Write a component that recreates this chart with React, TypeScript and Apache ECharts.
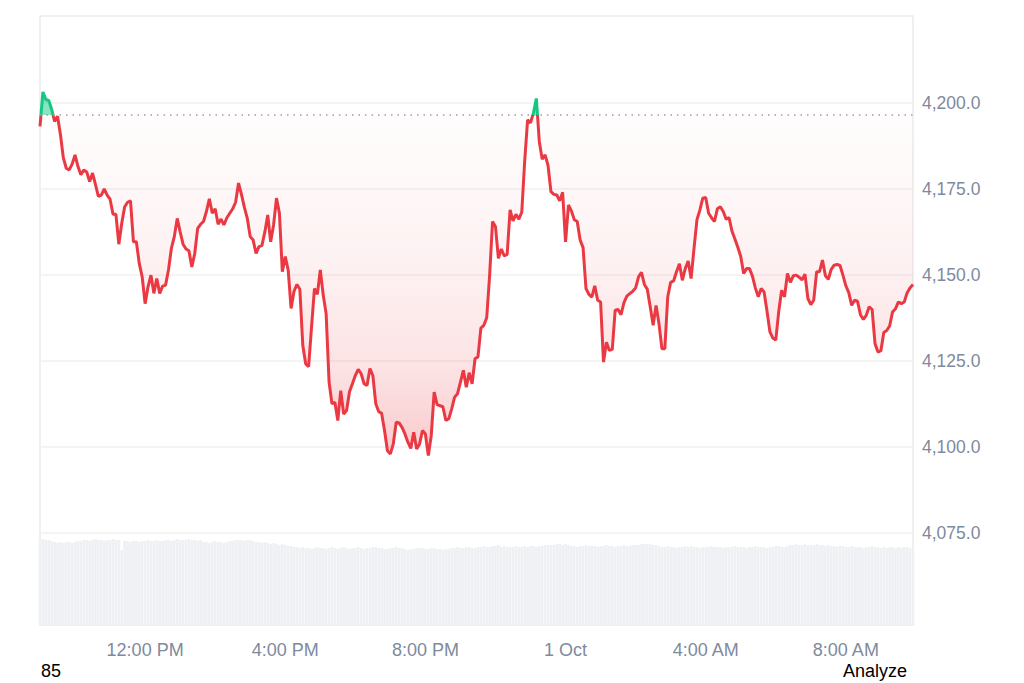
import React, { useEffect, useRef } from "react";
import * as echarts from "echarts";

// Price, 5-minute steps starting 9:00 AM (30 Sep)
const pricesA = [
  4193.2, 4203.2, 4201.0, 4200.7, 4198.1, 4194.6, 4196.1, 4190.8, 4184.0, 4181.0,
  4180.5, 4182.2, 4184.9, 4181.5, 4179.1, 4180.5, 4179.9, 4177.1, 4179.6, 4176.2,
  4172.8, 4173.2, 4175.0, 4173.2, 4172.0, 4167.6, 4167.6, 4158.9, 4165.0, 4169.8,
  4171.1, 4171.5, 4159.6, 4159.6, 4153.3, 4149.4, 4141.6, 4146.5, 4149.9, 4144.6,
  4148.9, 4144.6, 4146.7, 4147.0, 4151.4, 4157.7, 4161.1, 4166.4, 4162.5, 4158.9,
  4157.5, 4157.0, 4152.3, 4156.2, 4163.5, 4164.7, 4165.5, 4168.4, 4172.1, 4167.9,
  4169.2, 4164.7, 4166.2, 4164.5, 4166.6, 4167.9, 4169.2, 4171.1, 4176.7, 4173.4,
  4169.6, 4166.4, 4161.1, 4160.1, 4156.2,
];
const pricesB = [
  4158.2, 4158.5, 4162.4, 4167.4, 4159.6, 4164.5, 4172.3, 4167.9, 4150.9, 4155.3,
  4151.4, 4140.2, 4145.2, 4147.2, 4145.8, 4129.5, 4124.1, 4123.3, 4134.8, 4146.0,
  4144.3, 4151.4, 4144.1, 4138.7, 4118.8, 4112.5, 4112.9, 4107.6, 4116.3, 4109.5,
  4110.5, 4116.0, 4118.3, 4120.7, 4122.5, 4121.2, 4118.3, 4117.8, 4122.7, 4120.7,
  4112.5, 4110.2, 4109.7, 4104.7, 4098.8, 4097.9, 4100.8, 4107.1, 4106.9, 4105.6,
  4103.7, 4101.3, 4099.5, 4104.2, 4099.3, 4100.8, 4104.7, 4103.7, 4097.4, 4103.2,
  4115.9, 4112.2, 4111.9, 4111.6, 4107.6, 4108.1, 4111.0, 4114.4, 4115.4, 4118.8,
  4122.2, 4117.3, 4121.5, 4118.3, 4125.6,
];
const pricesC = [
  4126.1, 4134.5, 4135.3, 4137.5, 4149.9, 4165.5, 4164.0, 4154.8, 4157.5, 4155.5,
  4155.9, 4168.9, 4165.7, 4167.6, 4166.2, 4168.2, 4183.0, 4195.1, 4194.2, 4197.1,
  4201.3, 4188.8, 4183.6, 4184.9, 4181.8, 4174.2, 4173.4, 4173.2, 4171.5, 4174.0,
  4159.6, 4170.3, 4168.6, 4166.0, 4165.5, 4160.1, 4157.9, 4146.0, 4144.3, 4143.5,
  4146.8, 4142.6, 4142.1, 4124.6, 4130.4, 4128.0, 4128.3, 4139.7, 4139.9, 4138.4,
  4141.9, 4143.8, 4144.5, 4145.2, 4146.2, 4149.4, 4150.7, 4147.2, 4145.8, 4140.7,
  4135.3, 4141.1, 4135.8, 4128.5, 4128.5, 4143.6, 4147.8, 4148.2, 4150.9, 4153.2,
  4148.4, 4151.8, 4154.0, 4148.9,
];
const pricesD = [
  4157.7, 4166.0, 4168.8, 4172.3, 4172.5, 4167.9, 4166.6, 4165.5, 4169.2, 4169.8,
  4168.4, 4166.2, 4166.6, 4162.7, 4160.4, 4158.0, 4155.3, 4150.4, 4151.8, 4151.8,
  4149.6, 4146.2, 4143.6, 4146.0, 4145.0, 4139.4, 4133.4, 4131.6, 4131.0, 4139.2,
  4145.5, 4143.6, 4150.4, 4147.8, 4149.7, 4149.9, 4149.3, 4148.5, 4150.2, 4143.1,
  4141.3, 4142.6, 4150.9, 4150.9, 4154.3, 4149.7, 4148.7, 4151.6, 4152.8, 4153.0,
  4152.7, 4149.9, 4146.8, 4144.8, 4141.1, 4142.6, 4142.3, 4138.4, 4137.0, 4138.2,
  4140.7, 4139.9, 4129.9, 4127.5, 4127.9, 4133.2, 4133.8, 4135.1, 4139.2, 4140.1,
  4142.1, 4141.6, 4142.1, 4144.8, 4146.2, 4147.2,
];
const prices = [...pricesA, ...pricesB, ...pricesC, ...pricesD];

// Volume (relative units)
const volumes = [
  85, 86, 85, 85, 84,
  83, 82, 83, 82, 83, 83, 82, 83, 84, 84,
  85, 85, 84, 85, 86, 85, 85, 84, 85, 85, 86, 85, 85,
  75,
  84, 84, 83, 84, 84, 83, 84, 84, 85, 84, 84, 85, 84, 84, 85, 85, 84,
  85, 86, 85, 85, 85, 86, 85, 85, 84, 85,
  83, 83, 82, 83, 84, 83, 83, 82, 83, 84, 84,
  85, 85, 85, 84, 85, 85, 84,
  83, 83, 82, 83, 82, 81, 82, 81, 80, 81, 80, 79,
  79, 78, 78, 77,
  78, 77, 77, 76, 77, 78, 77, 77, 76, 77, 78,
  77, 76, 77, 78, 77, 76, 77, 77, 78, 77,
  76, 77, 77, 78, 78, 77, 77, 76, 76, 77,
  77, 78, 77, 77, 76, 75, 76, 76, 77, 77,
  77, 76, 76, 77, 77, 76, 76, 75, 76, 76,
  77, 77, 78, 77, 77, 78, 78, 77, 77, 78,
  78, 79, 78, 78, 79, 79, 80,
  78, 79, 78, 78, 78, 79, 78, 78, 79, 78, 79, 79, 78, 79, 79, 80, 80, 80,
  80, 81, 81, 80, 81, 80,
  79, 79, 78, 79, 79, 80, 79, 79, 79, 78, 79, 79, 80, 79, 79, 78, 79, 79, 80, 79, 79, 80, 80, 80, 81, 81,
  81, 81, 80, 80, 79,
  78, 78, 79, 78, 78, 77, 78, 78, 79, 78,
  79, 78, 78, 77, 78, 78, 78, 79, 78, 78,
  78, 77, 78, 78, 78, 79, 78, 78, 78, 77,
  78, 78, 79, 78, 78, 78, 77, 78, 78, 79,
  79, 78, 78, 79,
  80, 80, 81, 80, 80, 81, 80, 80, 80, 81, 80, 80, 79, 80,
  79, 79, 78, 79, 79, 78, 78, 79, 78, 78,
  78, 77, 78, 78, 79, 78, 78, 77, 78, 77,
  78, 78, 77, 78, 77, 78, 78, 77,
  76,
];

const START_MINUTES = 9 * 60;
const STEP_MINUTES = 5;
const categories: string[] = prices.map((_, i) => {
  const m = START_MINUTES + i * STEP_MINUTES;
  const h = Math.floor(m / 60) % 24;
  const mm = m % 60;
  return `${String(h).padStart(2, "0")}:${String(mm).padStart(2, "0")}`;
});

const xTickLabels: Record<string, string> = {
  "12:00": "12:00 PM",
  "16:00": "4:00 PM",
  "20:00": "8:00 PM",
  "00:00": "1 Oct",
  "04:00": "4:00 AM",
  "08:00": "8:00 AM",
};
const yTickLabels = [4075, 4100, 4125, 4150, 4175, 4200];

const BASELINE = 4196.5;
const Y_MIN = 4050;
const Y_MAX = 4225;
const GRID_TOP = 17;
const GRID_BOTTOM = 64.5;
const CHART_H = 683;
const FONT = "'Liberation Sans', Arial, Helvetica, sans-serif";
const LABEL_COLOR = "#808a9d";

export default function App() {
  const ref = useRef<HTMLDivElement>(null);
  useEffect(() => {
    if (!ref.current) return;
    const chart = echarts.init(ref.current, undefined, { renderer: "svg" });
    const plotH = CHART_H - GRID_TOP - GRID_BOTTOM;
    const baseY = GRID_TOP + ((Y_MAX - BASELINE) / (Y_MAX - Y_MIN)) * plotH;
    const bOff = baseY / CHART_H;
    const lineGrad = new echarts.graphic.LinearGradient(
      0, 0, 0, CHART_H,
      [
        { offset: 0, color: "#16c784" },
        { offset: bOff, color: "#16c784" },
        { offset: bOff, color: "#ea3943" },
        { offset: 1, color: "#ea3943" },
      ],
      true
    );
    const aTop = baseY - 20;
    const aBot = 460;
    const span = aBot - aTop;
    const off = (y: number) => Math.min(1, Math.max(0, (y - aTop) / span));
    const areaGrad = new echarts.graphic.LinearGradient(
      0, aTop, 0, aBot,
      [
        { offset: 0, color: "rgba(22,199,132,0.5)" },
        { offset: off(baseY), color: "rgba(22,199,132,0.5)" },
        { offset: off(baseY), color: "rgba(234,57,67,0.01)" },
        { offset: off(265), color: "rgba(234,57,67,0.07)" },
        { offset: off(365), color: "rgba(234,57,67,0.14)" },
        { offset: off(430), color: "rgba(234,57,67,0.23)" },
        { offset: 1, color: "rgba(234,57,67,0.27)" },
      ],
      true
    );
    const splitColors = ["rgba(0,0,0,0)", "#f0f0f0", "#f0f0f0", "#f0f0f0", "#f0f0f0", "#f0f0f0", "#f0f0f0", "rgba(0,0,0,0)"];
    chart.setOption({
      animation: false,
      grid: [
        { left: 40, right: 111, top: GRID_TOP, bottom: GRID_BOTTOM },
        { left: 40, right: 111, top: 533, bottom: 58 },
      ],
      xAxis: [
        { type: "category", gridIndex: 0, data: categories, boundaryGap: false, show: false },
        {
          type: "category",
          gridIndex: 1,
          data: categories,
          boundaryGap: false,
          axisLine: { show: false },
          axisTick: { show: false },
          splitLine: { show: false },
          axisLabel: {
            interval: (_i: number, v: string) => v in xTickLabels,
            formatter: (v: string) => xTickLabels[v] ?? "",
            color: LABEL_COLOR,
            fontSize: 18,
            fontFamily: FONT,
            margin: 16,
          },
        },
      ],
      yAxis: [
        {
          type: "value",
          gridIndex: 0,
          position: "right",
          min: Y_MIN,
          max: Y_MAX,
          interval: 25,
          axisLine: { show: false },
          axisTick: { show: false },
          axisLabel: {
            formatter: (v: number) =>
              yTickLabels.includes(v)
                ? v.toFixed(1).replace(/\B(?=(\d{3})+(?!\d))/, ",")
                : "",
            color: LABEL_COLOR,
            fontSize: 17.5,
            fontFamily: FONT,
            margin: 9,
          },
          splitLine: { lineStyle: { color: splitColors, width: 1.5 } },
        },
        { type: "value", gridIndex: 1, min: 0, max: 92, show: false },
      ],
      series: [
        {
          type: "bar",
          xAxisIndex: 1,
          yAxisIndex: 1,
          data: volumes,
          barCategoryGap: "8%",
          itemStyle: { color: "#eef0f4" },
          silent: true,
        },
        {
          type: "line",
          xAxisIndex: 0,
          yAxisIndex: 0,
          data: prices,
          showSymbol: false,
          silent: true,
          lineStyle: { width: 3, color: lineGrad },
          areaStyle: { origin: BASELINE, color: areaGrad, opacity: 1 },
          markLine: {
            silent: true,
            symbol: "none",
            label: { show: false },
            lineStyle: { color: "#9a9fa8", type: [1.5, 5], width: 1.5 },
            data: [{ yAxis: BASELINE }],
          },
          z: 3,
        },
      ],
      graphic: [
        {
          type: "rect",
          silent: true,
          z: -1,
          shape: { x: 40, y: 16, width: 873, height: 609 },
          style: { fill: "none", stroke: "#ececec", lineWidth: 1.5 },
        },
        {
          type: "text",
          x: 41,
          y: 671,
          style: { text: "85", fill: "#000", font: `18px ${FONT}`, verticalAlign: "middle" },
        },
        {
          type: "text",
          x: 907,
          y: 671,
          style: { text: "Analyze", fill: "#000", font: `18px ${FONT}`, align: "right", verticalAlign: "middle" },
        },
      ],
    });
    return () => chart.dispose();
  }, []);
  return (
    <div
      ref={ref}
      style={{ position: "fixed", left: 0, top: 0, width: 1024, height: 683, background: "#fff" }}
    />
  );
}
